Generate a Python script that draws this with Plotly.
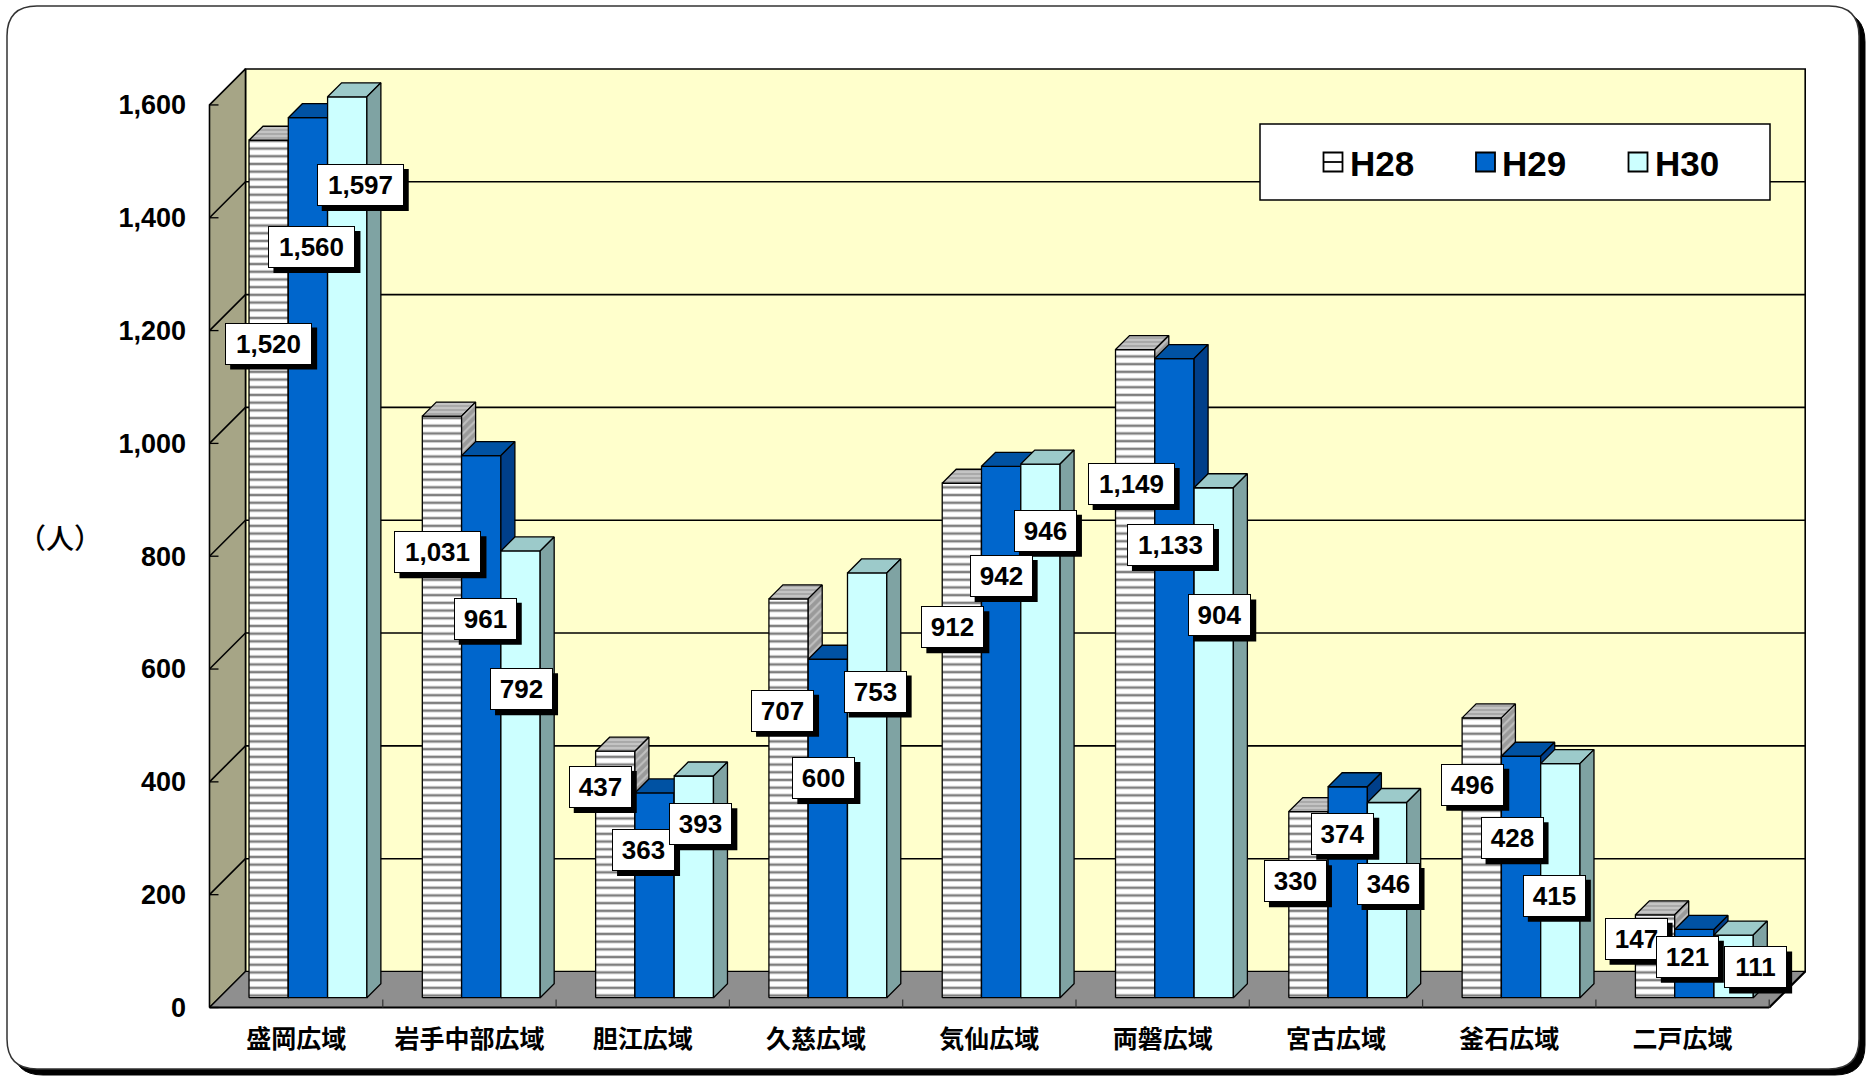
import plotly.graph_objects as go

# ---------------- data ----------------
categories = ["盛岡広域", "岩手中部広域", "胆江広域", "久慈広域", "気仙広域",
              "両磐広域", "宮古広域", "釜石広域", "二戸広域"]
series_names = ["H28", "H29", "H30"]
h28 = [1520, 1031, 437, 707, 912, 1149, 330, 496, 147]
h29 = [1560, 961, 363, 600, 942, 1133, 374, 428, 121]
h30 = [1597, 792, 393, 753, 946, 904, 346, 415, 111]
y_ticks = [0, 200, 400, 600, 800, 1000, 1200, 1400, 1600]
unit_label = "（人）"

# ---------------- label placement (not data) ----------------
lab_y_h28 = [1177, 807, 391, 526, 674, 928, 224, 395, 122]
lab_y_h29 = [1348, 689, 279, 407, 765, 820, 308, 300, 90]
lab_y_h30 = [1458, 564, 325, 560, 845, 695, 219, 198, 71]
lab_dx_h28 = [0, -4, -15, -6, -9, -4, -13, -9, -19]
lab_dx_h29 = [4, 4, -11, -4, 0, -4, -5, -9, -7]
lab_dx_h30 = [13, 1, 7, 8, 5, 6, 1, -6, 22]

# ---------------- geometry / style ----------------
W, H = 1870, 1081
ML, MR, MT, MB = 200, 60, 60, 66
PX_CAT = 173.3        # px per category (front plane)
PX_VAL = 0.5641       # px per person
X0_PX = 209.5         # px of category -0.5 on front plane
Y0_PX = 1007.5        # px of value 0 on front plane
DEPTH_PX = 36         # oblique depth of the box
BAR_Z0, BAR_Z1 = 9.8, 23.8
BAR_W = 0.2267
BAR_SHIFT = 2 / PX_CAT
SHADOW = 5

PW = W - ML - MR
PH = H - MT - MB


def xd(px):
    return -0.5 + (px - X0_PX) / PX_CAT


def yd(py):
    return (Y0_PX - py) / PX_VAL


def ddx(pz):
    return pz / PX_CAT


def ddy(pz):
    return pz / PX_VAL


def p2x(px):
    return (px - ML) / PW


def p2y(py):
    return (H - MB - py) / PH


FONT_LAT = "Liberation Sans, Arial, sans-serif"
FONT_JP = "Noto Sans CJK JP, sans-serif"

n = len(categories)
DX, DY = ddx(DEPTH_PX), ddy(DEPTH_PX)
top_v = y_ticks[-1]

fig = go.Figure()


def poly_trace(xs, ys, fillcolor, line_color="black", lw=1.2, pattern=None):
    kw = dict(x=xs, y=ys, mode="lines", fill="toself", fillcolor=fillcolor,
              line=dict(color=line_color, width=lw), hoverinfo="skip",
              showlegend=False)
    if pattern:
        kw["fillpattern"] = pattern
    return go.Scatter(**kw)


def seg_trace(segs, color="black", lw=1.5):
    xs, ys = [], []
    for (x0, y0, x1, y1) in segs:
        xs += [x0, x1, None]
        ys += [y0, y1, None]
    return go.Scatter(x=xs, y=ys, mode="lines", line=dict(color=color, width=lw),
                      hoverinfo="skip", showlegend=False)


# back wall
fig.add_trace(poly_trace([-0.5 + DX, n - 0.5 + DX, n - 0.5 + DX, -0.5 + DX, -0.5 + DX],
                         [DY, DY, top_v + DY, top_v + DY, DY], "#ffffcc", lw=1.6))
fig.add_trace(seg_trace([(-0.5 + DX, v + DY, n - 0.5 + DX, v + DY) for v in y_ticks[1:-1]], lw=1.6))
# left wall
fig.add_trace(poly_trace([-0.5, -0.5, -0.5 + DX, -0.5 + DX, -0.5],
                         [0, top_v, top_v + DY, DY, 0], "#a6a586", lw=1.6))
fig.add_trace(seg_trace([(-0.5, v, -0.5 + DX, v + DY) for v in y_ticks[1:-1]], lw=1.6))
# floor
fig.add_trace(poly_trace([-0.5, n - 0.5, n - 0.5 + DX, -0.5 + DX, -0.5],
                         [0, 0, DY, DY, 0], "#8f8f8f", lw=1.2))
fig.add_trace(seg_trace([(-0.5, 0, n - 0.5, 0), (n - 0.5, 0, n - 0.5 + DX, DY)], lw=2.2))
fig.add_trace(seg_trace([(k + 0.5, 0, k + 0.5, ddy(8)) for k in range(n)], color="#333333", lw=1.2))

# bars
all_vals = [h28, h29, h30]
styles = [
    dict(front=("white", dict(shape="-", bgcolor="white", fgcolor="black", size=7.7, solidity=0.33)),
         top=("#b4b4b4", dict(shape="-", bgcolor="#c4c4c4", fgcolor="#6a6a6a", size=4, solidity=0.3)),
         side=("#a0a0a0", dict(shape="/", bgcolor="#9a9a9a", fgcolor="#e6e6e6", size=6, solidity=0.35))),
    dict(front=("#0066cc", None), top=("#0052a3", None), side=("#003f8a", None)),
    dict(front=("#ccffff", None), top=("#9ccaca", None), side=("#7fa3a3", None)),
]


def add_poly(store, xs, ys):
    store[0].extend(xs + [xs[0], None])
    store[1].extend(ys + [ys[0], None])


for j, vals in enumerate(all_vals):
    F, T, S = ([], []), ([], []), ([], [])
    ax, ay = ddx(BAR_Z0), ddy(BAR_Z0)
    bx, by = ddx(BAR_Z1), ddy(BAR_Z1)
    for i, v in enumerate(vals):
        xc = i + (j - 1) * BAR_W + BAR_SHIFT
        xl, xr = xc - BAR_W / 2, xc + BAR_W / 2
        add_poly(F, [xl + ax, xr + ax, xr + ax, xl + ax], [ay, ay, v + ay, v + ay])
        add_poly(T, [xl + ax, xr + ax, xr + bx, xl + bx], [v + ay, v + ay, v + by, v + by])
        add_poly(S, [xr + ax, xr + bx, xr + bx, xr + ax], [ay, by, v + by, v + ay])
    st = styles[j]
    for key, store in (("front", F), ("top", T), ("side", S)):
        col, pat = st[key]
        fig.add_trace(poly_trace(store[0], store[1], col, lw=1.3, pattern=pat))

# front axis tick marks
fig.add_trace(seg_trace([(-0.5, v, -0.5 + ddx(9), v) for v in y_ticks], lw=1.3))

shapes = []


def rrect(x0, y0, x1, y1, r):
    X = p2x
    Y = p2y
    return (f"M {X(x0 + r)},{Y(y0)} L {X(x1 - r)},{Y(y0)} Q {X(x1)},{Y(y0)} {X(x1)},{Y(y0 + r)} "
            f"L {X(x1)},{Y(y1 - r)} Q {X(x1)},{Y(y1)} {X(x1 - r)},{Y(y1)} "
            f"L {X(x0 + r)},{Y(y1)} Q {X(x0)},{Y(y1)} {X(x0)},{Y(y1 - r)} "
            f"L {X(x0)},{Y(y0 + r)} Q {X(x0)},{Y(y0)} {X(x0 + r)},{Y(y0)} Z")


# outer rounded frame with shadow
shapes.append(dict(type="path", xref="paper", yref="paper", path=rrect(13, 12, 1865, 1075, 30),
                   fillcolor="black", line=dict(color="black", width=1), layer="below"))
shapes.append(dict(type="path", xref="paper", yref="paper", path=rrect(7, 6, 1859, 1069, 30),
                   fillcolor="white", line=dict(color="#333333", width=1.5), layer="below"))

# data labels: box shadow (shape, pixel-sized) + boxed text
lab_y = [lab_y_h28, lab_y_h29, lab_y_h30]
lab_dx = [lab_dx_h28, lab_dx_h29, lab_dx_h30]
BOX_H = 32
PAD = 4
for j, vals in enumerate(all_vals):
    for i, v in enumerate(vals):
        txt = f"{v:,}"
        xc = i + (j - 1) * BAR_W + BAR_SHIFT + ddx(BAR_Z0) + ddx(lab_dx[j][i])
        yc = lab_y[j][i]
        wbox = 12 * len(txt) + 17
        hw = wbox / 2 + PAD + 1
        hh = BOX_H / 2 + PAD + 1
        shapes.append(dict(type="rect", xref="x", yref="y", xsizemode="pixel", ysizemode="pixel",
                           xanchor=xc, yanchor=yc,
                           x0=-hw + SHADOW, x1=hw + SHADOW, y0=-hh - SHADOW, y1=hh - SHADOW,
                           fillcolor="black", line=dict(width=0), layer="above"))
        fig.add_annotation(
            x=xc, y=yc, xref="x", yref="y", text=txt, showarrow=False,
            font=dict(family=FONT_LAT, size=26, color="black", weight="bold"),
            bgcolor="white", bordercolor="black", borderwidth=1, borderpad=PAD,
            width=wbox, height=BOX_H, align="center", valign="middle",
            xanchor="center", yanchor="middle")

# legend (drawn manually)
LEG_X0, LEG_X1, LEG_Y0, LEG_Y1 = 1260, 1770, 124, 200
LEG_ICON_X, LEG_STEP, LEG_CY, ICON = 1333, 152.5, 162, 19
shapes.append(dict(type="rect", xref="paper", yref="paper", x0=p2x(LEG_X0), x1=p2x(LEG_X1),
                   y0=p2y(LEG_Y1), y1=p2y(LEG_Y0), fillcolor="white",
                   line=dict(color="black", width=1.5), layer="above"))
leg_colors = ["white", "#0066cc", "#ccffff"]
for k, (name, col) in enumerate(zip(series_names, leg_colors)):
    cx = LEG_ICON_X + k * LEG_STEP
    shapes.append(dict(type="rect", xref="paper", yref="paper",
                       x0=p2x(cx - ICON / 2), x1=p2x(cx + ICON / 2),
                       y0=p2y(LEG_CY + ICON / 2), y1=p2y(LEG_CY - ICON / 2),
                       fillcolor=col, line=dict(color="black", width=1.8), layer="above"))
    if k == 0:
        shapes.append(dict(type="line", xref="paper", yref="paper",
                           x0=p2x(cx - ICON / 2), x1=p2x(cx + ICON / 2),
                           y0=p2y(LEG_CY), y1=p2y(LEG_CY),
                           line=dict(color="black", width=1.8), layer="above"))
    fig.add_annotation(x=p2x(cx + ICON / 2 + 5), y=p2y(LEG_CY + 1), xref="paper", yref="paper",
                       text=name, showarrow=False, xanchor="left", yanchor="middle",
                       font=dict(family=FONT_LAT, size=35, color="black", weight="bold"))

# unit label
fig.add_annotation(x=p2x(60), y=p2y(537), xref="paper", yref="paper", text=unit_label,
                   showarrow=False, xanchor="center", yanchor="middle",
                   font=dict(family=FONT_JP, size=28, color="black", weight=500))

fig.update_layout(
    width=W, height=H,
    margin=dict(l=ML, r=MR, t=MT, b=MB, autoexpand=False),
    paper_bgcolor="white", plot_bgcolor="rgba(0,0,0,0)",
    shapes=shapes,
    showlegend=False,
    xaxis=dict(range=[xd(ML), xd(W - MR)], tickvals=list(range(n)), ticktext=categories,
               showgrid=False, zeroline=False, showline=False, ticks="",
               tickfont=dict(family=FONT_JP, size=25, color="black", weight="bold"),
               ticklabelstandoff=7, fixedrange=True),
    yaxis=dict(range=[yd(H - MB), yd(MT)], tickvals=y_ticks,
               ticktext=[f"{v:,}" for v in y_ticks],
               showgrid=False, zeroline=False, showline=False, ticks="",
               tickfont=dict(family=FONT_LAT, size=27, color="black", weight="bold"),
               ticklabelstandoff=13, fixedrange=True),
)

fig.write_html("out.html", config={"displayModeBar": False},
               post_script="document.body.style.margin='0';")
